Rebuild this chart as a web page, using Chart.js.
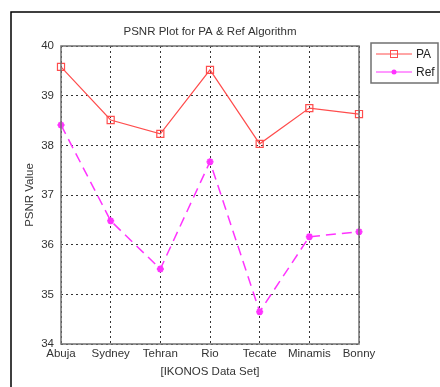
<!DOCTYPE html>
<html>
<head>
<meta charset="utf-8">
<script src="https://cdn.jsdelivr.net/npm/chart.js@4.4.0/dist/chart.umd.min.js"></script>
<style>
  html, body { margin: 0; padding: 0; background: #fff; }
  #wrap { width: 440px; height: 387px; position: relative; }
</style>
</head>
<body>
<div id="wrap"><canvas id="c" width="440" height="387"></canvas></div>
<script>
// Veriler
const cities = ['Abuja', 'Sydney', 'Tehran', 'Rio', 'Tecate', 'Minamis', 'Bonny'];
const paVals  = [39.58, 38.51, 38.23, 39.52, 38.03, 38.75, 38.63];
const refVals = [38.41, 36.48, 35.51, 37.67, 34.65, 36.16, 36.26];
const yTicks  = [34, 35, 36, 37, 38, 39, 40];

const C_PA  = '#ff4d4d';
const C_REF = '#ff33ff';
const FONT  = 'Arial, "Liberation Sans", sans-serif';

// dış çerçeve, başlık, grafik kutusu ve lejant
const decor = {
  id: 'decor',
  beforeDraw(chart) {
    const ctx = chart.ctx;
    ctx.save();
    ctx.fillStyle = '#fff';
    ctx.fillRect(0, 0, chart.width, chart.height);
    ctx.strokeStyle = '#000';
    ctx.lineWidth = 1.5;
    ctx.beginPath();
    ctx.moveTo(11, 390); ctx.lineTo(11, 12); ctx.lineTo(440, 12);
    ctx.stroke();
    ctx.restore();
  },
  afterDraw(chart) {
    const ctx = chart.ctx;
    const a = chart.chartArea;
    ctx.save();
    // plot kutusu
    ctx.strokeStyle = '#707070';
    ctx.lineWidth = 1.5;
    ctx.strokeRect(a.left, a.top, a.right - a.left, a.bottom - a.top);

    // başlık
    ctx.fillStyle = '#333';
    ctx.font = '11.5px ' + FONT;
    ctx.textAlign = 'center';
    ctx.textBaseline = 'middle';
    ctx.fillText('PSNR Plot for PA & Ref Algorithm', (a.left + a.right) / 2, 32);

    // lejant
    ctx.fillStyle = '#fff';
    ctx.fillRect(371, 43, 67, 40);
    ctx.strokeStyle = '#707070';
    ctx.lineWidth = 1.5;
    ctx.strokeRect(371, 43, 67, 40);
    chart.data.datasets.forEach((ds, i) => {
      const y = 54 + i * 18;
      ctx.strokeStyle = ds.borderColor;
      ctx.lineWidth = 1;
      ctx.setLineDash([]);
      ctx.beginPath(); ctx.moveTo(376, y); ctx.lineTo(412, y); ctx.stroke();
      if (i === 0) {
        ctx.strokeRect(390.5, y - 3.5, 7, 7);
      } else {
        ctx.fillStyle = ds.borderColor;
        ctx.beginPath(); ctx.arc(394, y, 2.5, 0, Math.PI * 2); ctx.fill();
      }
      ctx.fillStyle = '#222';
      ctx.font = '12px ' + FONT;
      ctx.textAlign = 'left';
      ctx.fillText(ds.label, 416, y + 1);
    });
    ctx.restore();
  }
};

new Chart(document.getElementById('c'), {
  type: 'line',
  data: {
    labels: cities,
    datasets: [
      {
        label: 'PA', data: paVals,
        borderColor: C_PA, borderWidth: 1.2,
        pointStyle: 'rect', pointRadius: 5, pointBorderColor: C_PA,
        pointBackgroundColor: 'rgba(0,0,0,0)', pointBorderWidth: 1.2,
        tension: 0
      },
      {
        label: 'Ref', data: refVals,
        borderColor: C_REF, borderWidth: 1.5, borderDash: [10, 6],
        pointStyle: 'star', pointRadius: 3.5, pointBorderColor: C_REF,
        pointBackgroundColor: C_REF, pointBorderWidth: 2,
        tension: 0
      }
    ]
  },
  options: {
    responsive: false,
    animation: false,
    events: [],
    layout: { padding: { left: 0, top: 46, right: 81, bottom: 0 } },
    plugins: { legend: { display: false }, tooltip: { enabled: false }, title: { display: false } },
    scales: {
      x: {
        type: 'category',
        offset: false,
        afterFit: s => { s.height = 43; },
        grid: { color: '#333', lineWidth: 1, drawTicks: false },
        border: { display: false, dash: [2, 3] },
        ticks: { color: '#333', font: { size: 11.5, family: FONT }, padding: 3, maxRotation: 0, autoSkip: false },
        title: { display: true, text: '[IKONOS Data Set]', color: '#333', font: { size: 11.5, family: FONT }, padding: { top: 0, bottom: 8 } }
      },
      y: {
        min: 34, max: 40,
        afterFit: s => { s.width = 61; },
        afterBuildTicks: s => { s.ticks = yTicks.map(v => ({ value: v })); },
        grid: { color: '#333', lineWidth: 1, drawTicks: false },
        border: { display: false, dash: [2, 3] },
        ticks: { color: '#333', font: { size: 11.5, family: FONT }, padding: 7 },
        title: { display: true, text: 'PSNR Value', color: '#333', font: { size: 11.5, family: FONT }, padding: { top: 23, bottom: 0 } }
      }
    }
  },
  plugins: [decor]
});
</script>
</body>
</html>
